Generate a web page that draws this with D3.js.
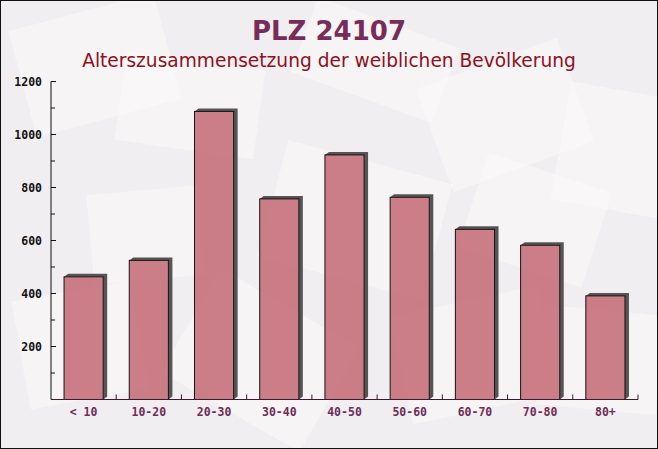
<!DOCTYPE html>
<html>
<head>
<meta charset="utf-8">
<script src="https://cdn.jsdelivr.net/npm/d3@7"></script>
<style>
  html, body { margin: 0; padding: 0; background: #fff; }
  svg { display: block; }
</style>
</head>
<body>
<script>
const categories = ["< 10", "10-20", "20-30", "30-40", "40-50", "50-60", "60-70", "70-80", "80+"];
const values = [463, 525, 1087, 757, 923, 763, 642, 582, 391];
const yTicks = [200, 400, 600, 800, 1000, 1200];
const yMinorTicks = [100, 300, 500, 700, 900, 1100];
const titleText = "PLZ 24107";
const subtitleText = "Alterszusammensetzung der weiblichen Bevölkerung";

const W = 658, H = 449;
const svg = d3.select("body").append("svg").attr("width", W).attr("height", H);

// background
svg.append("rect").attr("x", 0).attr("y", 0).attr("width", W).attr("height", H).attr("fill", "#f1eef1");
const deco = [
  [20, 10, 150, 110, -15], [120, 60, 140, 90, 8], [430, 60, 150, 110, -20], [560, 90, 110, 120, 10],
  [270, 160, 170, 120, 15], [20, 290, 120, 110, -10], [180, 300, 160, 120, 30], [400, 300, 150, 110, -12],
  [540, 310, 120, 100, 5], [470, 170, 130, 100, 18], [300, 20, 150, 80, 20], [90, 190, 110, 90, -5]
];
const bg = svg.append("g");
deco.forEach(d => {
  bg.append("rect").attr("x", d[0]).attr("y", d[1]).attr("width", d[2]).attr("height", d[3])
    .attr("fill", "#fbf9f9").attr("opacity", 0.5)
    .attr("transform", `rotate(${d[4]},${d[0] + d[2] / 2},${d[1] + d[3] / 2})`);
});

// titles
svg.append("text").attr("x", 329).attr("y", 40).attr("text-anchor", "middle")
  .attr("font-family", "DejaVu Sans").attr("font-weight", "bold").attr("font-size", 26)
  .attr("fill", "#772d57").text(titleText);
svg.append("text").attr("x", 329).attr("y", 67).attr("text-anchor", "middle")
  .attr("font-family", "DejaVu Sans").attr("font-size", 18.6)
  .attr("fill", "#8c1222").text(subtitleText);

const x0 = 51, x1 = 638, yTop = 81.5, yBot = 399.5;
const x = d3.scaleBand().domain(categories).range([x0, x1]).paddingInner(0.4).paddingOuter(0.2);
const y = d3.scaleLinear().domain([0, 1200]).range([yBot, yTop]);

// bars with 3D shadow
const g = svg.append("g");
const dx = 4, dy = 3;
categories.forEach((c, i) => {
  const bx = x(c), bw = x.bandwidth(), by = y(values[i]), bb = y(0);
  g.append("path")
    .attr("d", `M${bx},${by} L${bx + dx},${by - dy} L${bx + bw + dx},${by - dy} L${bx + bw + dx},${bb - dy} L${bx + bw},${bb} L${bx + bw},${by} Z`)
    .attr("fill", "#555555");
  g.append("rect").attr("x", bx).attr("y", by).attr("width", bw).attr("height", bb - by)
    .attr("fill", "#c56d78").attr("fill-opacity", 0.88)
    .attr("stroke", "#1a1212").attr("stroke-width", 1);
});

// y axis
const yAxisG = svg.append("g").attr("transform", `translate(${x0},0)`);
yAxisG.append("line").attr("x1", 0).attr("x2", 0).attr("y1", yTop).attr("y2", yBot)
  .attr("stroke", "#111").attr("stroke-width", 1);
yTicks.forEach(t => {
  yAxisG.append("line").attr("x1", 0).attr("x2", 5).attr("y1", y(t)).attr("y2", y(t)).attr("stroke", "#111");
  yAxisG.append("text").attr("x", -9).attr("y", y(t)).attr("dy", "0.35em").attr("text-anchor", "end")
    .attr("font-family", "DejaVu Sans Mono").attr("font-weight", "bold").attr("font-size", 11.5)
    .attr("fill", "#111").text(t);
});
yMinorTicks.forEach(t => {
  yAxisG.append("line").attr("x1", 0).attr("x2", 4).attr("y1", y(t)).attr("y2", y(t)).attr("stroke", "#111");
});

// x axis
const xAxisG = svg.append("g");
xAxisG.append("line").attr("x1", x0).attr("x2", x1).attr("y1", yBot).attr("y2", yBot)
  .attr("stroke", "#3a1a2c").attr("stroke-width", 1);
const bounds = d3.range(categories.length).map(i => x0 + (i + 1) * (x1 - x0) / categories.length);
bounds.forEach(b => {
  xAxisG.append("line").attr("x1", b).attr("x2", b).attr("y1", yBot).attr("y2", yBot - 5).attr("stroke", "#3a1a2c");
});
categories.forEach(c => {
  xAxisG.append("text").attr("x", x(c) + x.bandwidth() / 2).attr("y", 416).attr("text-anchor", "middle")
    .attr("font-family", "DejaVu Sans Mono").attr("font-weight", "bold").attr("font-size", 11.5)
    .attr("fill", "#6e2d55").text(c);
});

// border
svg.append("rect").attr("x", 0.5).attr("y", 0.5).attr("width", W - 1).attr("height", H - 1)
  .attr("fill", "none").attr("stroke", "#111").attr("stroke-width", 1);
</script>
</body>
</html>
